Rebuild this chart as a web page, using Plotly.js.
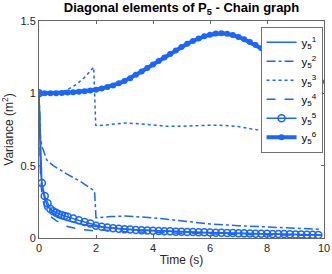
<!DOCTYPE html>
<html>
<head>
<meta charset="utf-8">
<script src="https://cdn.plot.ly/plotly-3.0.1.min.js"></script>
<style>html,body{margin:0;padding:0;background:#fff;}#chart{width:332px;height:274px;}</style>
</head>
<body>
<div id="chart"></div>
<script>
// ---- data ----
var seriesNames = ["y<sub>5</sub><sup>1</sup>", "y<sub>5</sub><sup>2</sup>", "y<sub>5</sub><sup>3</sup>",
                   "y<sub>5</sub><sup>4</sup>", "y<sub>5</sub><sup>5</sup>", "y<sub>5</sub><sup>6</sup>"];

var t1 = [0, 0.05, 0.1, 0.2, 0.3, 0.5, 0.75, 1, 1.5, 2, 3, 4, 5, 6, 7, 8, 9, 9.9];
var y1 = [1, 0.5, 0.36, 0.27, 0.22, 0.17, 0.14, 0.12, 0.095, 0.08, 0.06, 0.05, 0.042, 0.035, 0.031, 0.027, 0.023, 0.02];

var t2 = [0, 0.05, 0.1, 0.15, 0.27, 0.5, 1, 1.5, 1.95, 2.0, 2.5, 3, 4, 5, 6, 7, 8, 9, 9.9];
var y2 = [1, 0.7, 0.63, 0.61, 0.54, 0.5, 0.44, 0.385, 0.325, 0.14, 0.148, 0.152, 0.14, 0.118, 0.097, 0.085, 0.078, 0.07, 0.06];

var t3 = [0, 0.5, 0.8, 1.0, 1.3, 1.6, 1.92, 1.99, 2.05, 2.5, 3, 3.5, 4, 4.5, 5, 5.5, 6, 6.5, 7, 7.5, 8, 8.5, 9, 9.9];
var y3 = [1, 1.0, 1.01, 1.025, 1.06, 1.11, 1.18, 0.78, 0.775, 0.785, 0.795, 0.79, 0.78, 0.772, 0.772, 0.778, 0.78, 0.778, 0.77, 0.752, 0.74, 0.728, 0.724, 0.72];

var t4 = [0, 0.05, 0.1, 0.2, 0.3, 0.4, 0.6, 1, 1.5, 1.9, 2, 3, 4, 5, 6, 7, 8, 9, 9.9];
var y4 = [1, 0.45, 0.3, 0.21, 0.17, 0.15, 0.12, 0.08, 0.058, 0.05, 0.058, 0.045, 0.038, 0.032, 0.028, 0.025, 0.022, 0.02, 0.018];

var t5 = [0, 0.1, 0.2, 0.3, 0.4, 0.5, 0.6, 0.7, 0.8, 0.9, 1.0, 1.2, 1.4, 1.6, 1.8, 2.0, 2.2, 2.4, 2.6, 2.8, 3.0,
          3.2, 3.4, 3.6, 3.8, 4.0, 4.2, 4.4, 4.6, 4.8, 5.0, 5.2, 5.4, 5.6, 5.8, 6.0, 6.2, 6.4, 6.6, 6.8, 7.0,
          7.2, 7.4, 7.6, 7.8, 8.0, 8.2, 8.4, 8.6, 8.8, 9.0, 9.2, 9.4, 9.6, 9.8];
var y5 = [1, 0.38, 0.29, 0.24, 0.2, 0.185, 0.175, 0.165, 0.158, 0.152, 0.147, 0.135, 0.122, 0.11, 0.1, 0.085, 0.078, 0.072, 0.068, 0.064, 0.06,
          0.058, 0.056, 0.054, 0.052, 0.05, 0.048, 0.047, 0.046, 0.044, 0.043, 0.042, 0.041, 0.04, 0.039, 0.038, 0.037, 0.036, 0.035, 0.034, 0.033,
          0.032, 0.031, 0.03, 0.03, 0.029, 0.028, 0.027, 0.027, 0.026, 0.025, 0.024, 0.023, 0.022, 0.021];

var t6 = [0, 0.2, 0.4, 0.6, 0.8, 1.0, 1.2, 1.4, 1.6, 1.8, 2.0, 2.2, 2.4, 2.6, 2.8, 3.0,
          3.2, 3.4, 3.6, 3.8, 4.0, 4.2, 4.4, 4.6, 4.8, 5.0, 5.2, 5.4, 5.6, 5.8, 6.0, 6.2, 6.4, 6.6, 6.8, 7.0,
          7.2, 7.4, 7.6, 7.8, 8.0, 8.2, 8.4, 8.6, 8.8, 9.0, 9.2, 9.4, 9.6, 9.8, 9.9];
var y6 = [1.0, 1.0, 1.0, 1.001, 1.003, 1.005, 1.008, 1.011, 1.015, 1.02, 1.025, 1.033, 1.043, 1.055, 1.069, 1.085,
          1.105, 1.128, 1.151, 1.175, 1.2, 1.224, 1.248, 1.272, 1.296, 1.32, 1.342, 1.362, 1.379, 1.394, 1.405, 1.413, 1.415, 1.412, 1.404, 1.39,
          1.373, 1.354, 1.334, 1.312, 1.29, 1.266, 1.242, 1.217, 1.193, 1.17, 1.146, 1.124, 1.104, 1.086, 1.08];

var xTicks = [0, 2, 4, 6, 8, 10];
var yTicks = [0, 0.5, 1, 1.5];
var yTickText = ["0", "0.5", "1", "1.5"];

// ---- chart ----
var blue = "#1a66ff";
var traces = [
  {x: t1, y: y1, name: seriesNames[0], mode: "lines", line: {color: blue, width: 1.5, dash: "solid"}},
  {x: t2, y: y2, name: seriesNames[1], mode: "lines", line: {color: blue, width: 1.5, dash: "dashdot"}},
  {x: t3, y: y3, name: seriesNames[2], mode: "lines", line: {color: blue, width: 1.5, dash: "dot"}},
  {x: t4, y: y4, name: seriesNames[3], mode: "lines", line: {color: blue, width: 1.5, dash: "dash"}},
  {x: t5, y: y5, name: seriesNames[4], mode: "lines+markers", line: {color: blue, width: 1.5},
   marker: {symbol: "circle-open", size: 7, color: blue, line: {width: 1.5, color: blue}}},
  {x: t6, y: y6, name: seriesNames[5], mode: "lines+markers", line: {color: blue, width: 4},
   marker: {symbol: "circle", size: 6, color: blue}}
];

var axisCommon = {
  showgrid: false, zeroline: false, showline: true, mirror: "ticks",
  linecolor: "#666", linewidth: 1, ticks: "inside", ticklen: 3, tickcolor: "#666",
  tickfont: {family: "Liberation Sans, Arial, sans-serif", size: 11, color: "#262626"}
};

var layout = {
  width: 332, height: 274,
  margin: {l: 39, r: 8, t: 21, b: 36},
  paper_bgcolor: "#fff", plot_bgcolor: "#fff",
  font: {family: "Liberation Sans, Arial, sans-serif", color: "#262626"},
  title: {text: "<b>Diagonal elements of P<sub>5</sub> - Chain graph</b>", xref: "paper", x: 0.5, xanchor: "center",
          y: 0.99, yanchor: "top", font: {size: 13, color: "#000"}},
  xaxis: Object.assign({}, axisCommon, {range: [0, 10], tickvals: xTicks,
          title: {text: "Time (s)", standoff: 2, font: {size: 12, color: "#262626"}}}),
  yaxis: Object.assign({}, axisCommon, {range: [0, 1.5], tickvals: yTicks, ticktext: yTickText,
          title: {text: "Variance (m<sup>2</sup>)", standoff: 4, font: {size: 12, color: "#262626"}}}),
  showlegend: true,
  legend: {x: 0.996, xanchor: "right", y: 0.972, yanchor: "top", bgcolor: "#fff",
           bordercolor: "#333", borderwidth: 0.7, font: {size: 11.5, color: "#000"},
           tracegroupgap: 0, itemwidth: 30}
};

Plotly.newPlot("chart", traces, layout, {staticPlot: true, displayModeBar: false});
</script>
</body>
</html>
